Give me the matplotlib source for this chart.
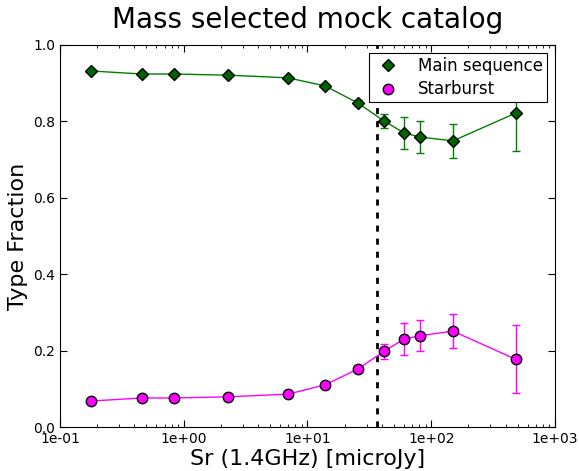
import numpy as np
import matplotlib
matplotlib.use('Agg')
import matplotlib.pyplot as plt
from matplotlib.ticker import FuncFormatter
from matplotlib.lines import Line2D

# flux bins (microJy)
sr = [0.178, 0.46, 0.83, 2.28, 6.95, 13.8, 25.6, 41.5, 60.2, 81.1, 150.0, 484.0]

main_frac = [0.932, 0.924, 0.924, 0.921, 0.914, 0.893, 0.848, 0.801, 0.770, 0.759, 0.749, 0.822]
main_err  = [0.002, 0.002, 0.002, 0.002, 0.003, 0.004, 0.007, 0.019, 0.041, 0.041, 0.044, 0.100]

sb_frac = [0.068, 0.076, 0.076, 0.079, 0.086, 0.110, 0.152, 0.198, 0.230, 0.239, 0.251, 0.177]
sb_err  = [0.002, 0.002, 0.002, 0.002, 0.003, 0.004, 0.007, 0.019, 0.041, 0.041, 0.044, 0.089]

sr_cut = 36.5

fig = plt.figure(figsize=(5.79, 4.71), dpi=100, facecolor='white')
ax = fig.add_axes([0.1036, 0.0934, 0.8549, 0.8111])

ax.errorbar(sr, main_frac, yerr=main_err, color='g', lw=1, capsize=3,
            marker='D', ms=6, mfc='#006400', mec='black', mew=1, zorder=3)
ax.errorbar(sr, sb_frac, yerr=sb_err, color='magenta', lw=1, capsize=3,
            marker='o', ms=7.5, mfc='magenta', mec='black', mew=1, zorder=3)
ax.axvline(sr_cut, color='black', lw=2, ls=(0, (2.2, 2.5)))

ax.set_xscale('log')
ax.set_xlim(0.1, 1000)
ax.set_ylim(0.0, 1.0)
ax.xaxis.set_major_formatter(FuncFormatter(lambda v, p: '%.0e' % v))
ax.yaxis.set_major_formatter(FuncFormatter(lambda v, p: '%.1f' % v))
ax.set_yticks([0.0, 0.2, 0.4, 0.6, 0.8, 1.0])
ax.tick_params(which='both', direction='in', top=True, right=True, labelsize=10)
ax.tick_params(which='major', length=5)
ax.tick_params(which='minor', length=2.5)

ax.set_xlabel('Sr (1.4GHz) [microJy]', fontsize=16, labelpad=2)
ax.set_ylabel('Type Fraction', fontsize=16)
ax.set_title('Mass selected mock catalog', fontsize=20, pad=12)

handles = [
    Line2D([], [], ls='none', marker='D', ms=6, mfc='#006400', mec='black', mew=1),
    Line2D([], [], ls='none', marker='o', ms=7.5, mfc='magenta', mec='black', mew=1),
]
leg = ax.legend(handles, ['Main sequence', 'Starburst'], loc='upper right', numpoints=1,
                fontsize=12, fancybox=False, framealpha=1, edgecolor='black',
                borderaxespad=0.5, handlelength=1.9, handletextpad=0.85, labelspacing=0.35,
                borderpad=0.2)
leg.get_frame().set_linewidth(0.8)

fig.savefig('out.png', dpi=100, facecolor='white')
